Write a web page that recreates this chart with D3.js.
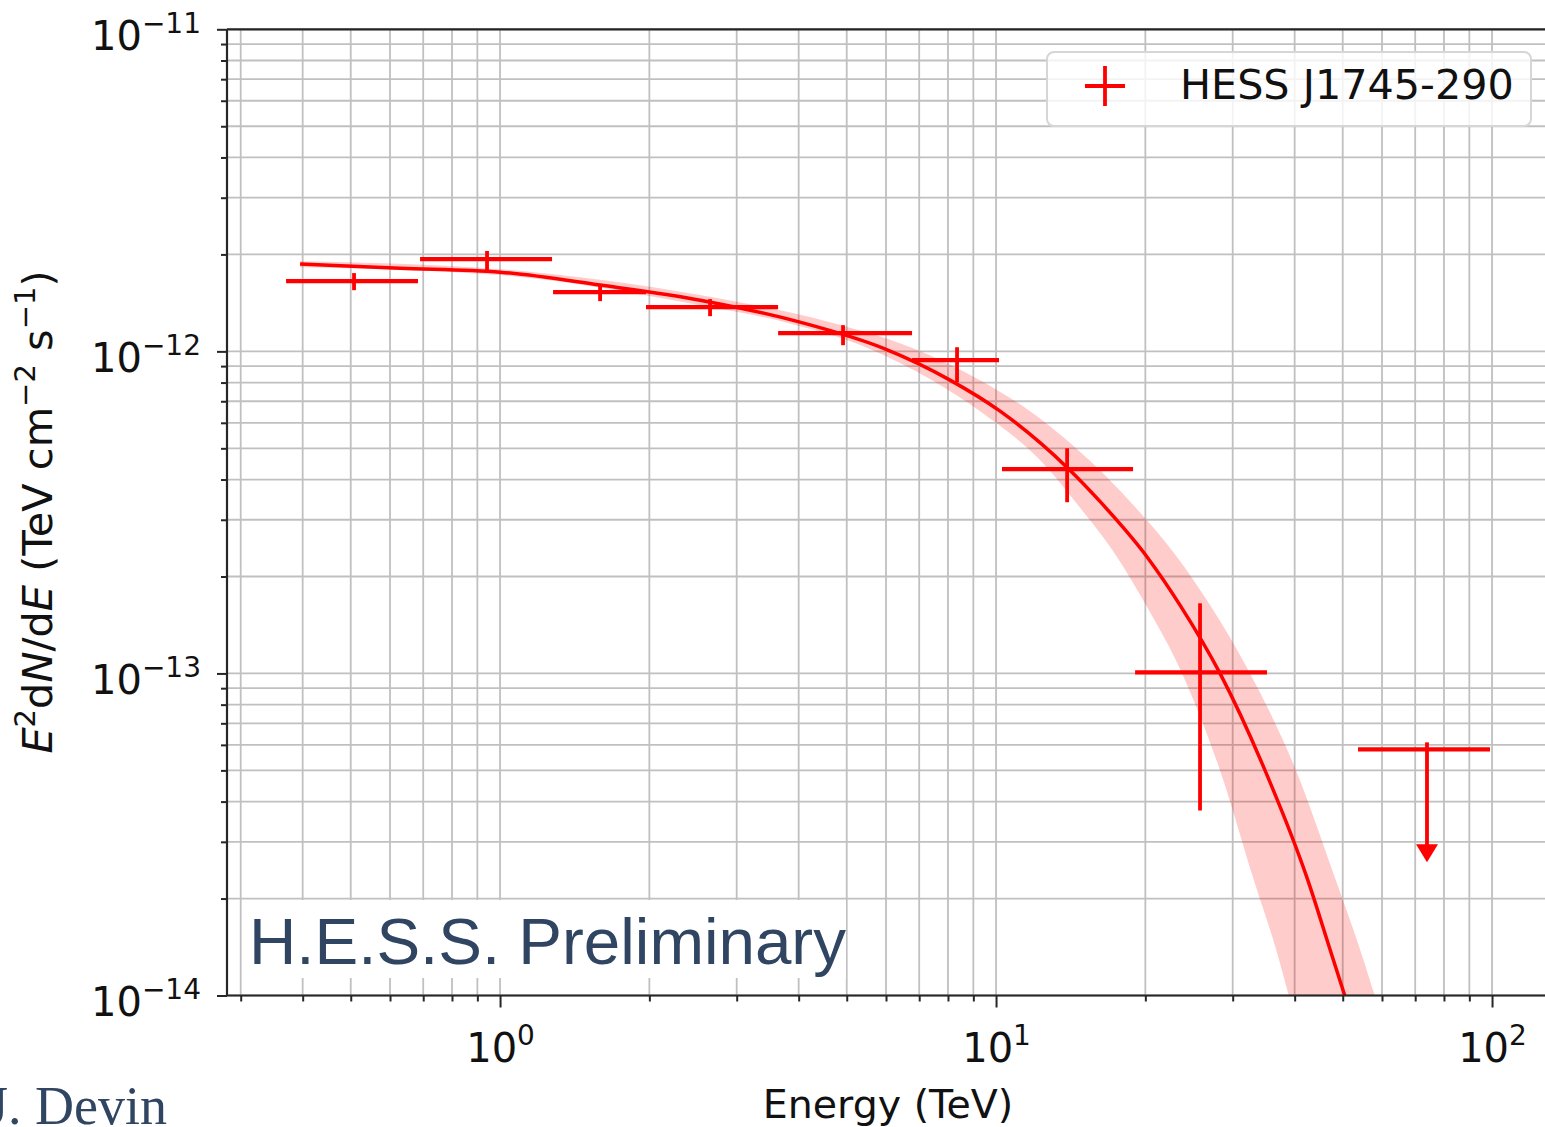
<!DOCTYPE html>
<html>
<head>
<meta charset="utf-8">
<script src="https://cdn.jsdelivr.net/npm/d3@7"></script>
<style>
    body { margin: 0; background: #fff; }
    svg { display: block; }
    text { white-space: pre; }
</style>
</head>
<body>
<div id="chart"></div>
<script>
// flux points (TeV, TeV cm^-2 s^-1)
const energy   = [0.5077, 0.9414, 1.591, 2.651, 4.915, 8.344, 13.91, 25.78];
const energyLo = [0.3703, 0.6898, 1.279, 1.969, 3.636, 6.771, 10.28, 19.07];
const energyHi = [0.6833, 1.273, 1.969, 3.636, 6.771, 10.14, 18.89, 35.18];
const flux     = [1.652e-12, 1.934e-12, 1.527e-12, 1.372e-12, 1.139e-12, 9.39e-13, 4.306e-13, 1.008e-13];
const fluxLo   = [1.549e-12, 1.787e-12, 1.432e-12, 1.286e-12, 1.045e-12, 8.02e-13, 3.401e-13, 3.756e-14];
const fluxHi   = [1.750e-12, 2.048e-12, 1.617e-12, 1.453e-12, 1.206e-12, 1.030e-12, 5.004e-13, 1.651e-13];

// upper limit in the last bin
const ulEnergy = [73.94];
const ulEnergyLo = [53.68];
const ulEnergyHi = [99.07];
const ulFlux = [5.811e-14];

// best fit model and its error band
const fitEnergy = [0.3952, 0.6286, 1.0, 1.591, 2.531, 4.025, 5.918, 8.077, 10.19, 13.91, 16.20, 20.16, 23.49, 28.29, 34.86, 42.57, 47.14, 50.54];
const fitFlux   = [1.866e-12, 1.813e-12, 1.762e-12, 1.606e-12, 1.442e-12, 1.232e-12, 1.023e-12, 8.14e-13, 6.52e-13, 4.36e-13,
                   3.42e-13, 2.30e-13, 1.63e-13, 1.00e-13, 5.00e-14, 2.27e-14, 1.39e-14, 9.93e-15];

const bandUpEnergy = [0.3952, 1.0, 2.531, 4.628, 6.803, 9.284, 11.71, 15.98, 18.63, 23.17, 27.01, 32.52, 40.25, 48.47, 54.19, 58.08];
const bandUpFlux   = [1.906e-12, 1.800e-12, 1.495e-12, 1.232e-12, 1.023e-12, 8.14e-13, 6.52e-13, 4.36e-13, 3.42e-13, 2.30e-13,
                      1.63e-13, 1.00e-13, 5.00e-14, 2.27e-14, 1.39e-14, 9.93e-15];
const bandLoEnergy = [0.3952, 1.0, 2.531, 3.755, 5.521, 7.430, 9.284, 12.67, 14.43, 17.53, 20.06, 23.71, 28.29, 33.13, 36.69, 38.97];
const bandLoFlux   = [1.826e-12, 1.725e-12, 1.391e-12, 1.232e-12, 1.023e-12, 8.14e-13, 6.52e-13, 4.36e-13, 3.42e-13, 2.30e-13,
                      1.63e-13, 1.00e-13, 5.00e-14, 2.27e-14, 1.39e-14, 9.93e-15];

// axes
const xMajorTicks = [1, 10, 100];
const xMajorLabels = ["0", "1", "2"];
const yMajorTicks = [1e-14, 1e-13, 1e-12, 1e-11];
const yMajorLabels = ["\u221214", "\u221213", "\u221212", "\u221211"];

const legendLabel = "HESS J1745-290";
const watermark = "H.E.S.S. Preliminary";
const author = "J. Devin";

const W = 1545, H = 1127;
const plot = { left: 227, right: 1560, top: 29.3, bottom: 995.5 };
const red = "#ff0000";
const gridColor = "#c0c0c0";
const spineColor = "#262626";
const slate = "#2f4562";
const sans = "'DejaVu Sans', sans-serif";

const svg = d3.select("#chart").append("svg")
    .attr("width", W)
    .attr("height", H)
    .style("overflow", "hidden")
    .style("font-family", sans);
svg.append("rect").attr("width", W).attr("height", H).attr("fill", "#fff");

const x = d3.scaleLog().domain([0.2815, 137.1]).range([plot.left, plot.right]);
const y = d3.scaleLog().domain([1e-14, 1e-11]).range([plot.bottom, plot.top]);

const isMajor = v => Math.abs(Math.log10(v) - Math.round(Math.log10(v))) < 1e-6;
const xMinor = x.ticks().filter(v => !isMajor(v));
const yMinor = y.ticks().filter(v => !isMajor(v));

svg.append("clipPath").attr("id", "plotClip")
    .append("rect")
    .attr("x", plot.left).attr("y", plot.top)
    .attr("width", plot.right - plot.left).attr("height", plot.bottom - plot.top);

// grid, major and minor
const grid = svg.append("g").attr("stroke", gridColor).attr("stroke-width", 1.8);
grid.selectAll(".gx").data(x.ticks()).join("line")
    .attr("x1", d => x(d)).attr("x2", d => x(d))
    .attr("y1", plot.top).attr("y2", plot.bottom);
grid.selectAll(".gy").data(y.ticks()).join("line")
    .attr("x1", plot.left).attr("x2", plot.right)
    .attr("y1", d => y(d)).attr("y2", d => y(d));

const g = svg.append("g").attr("clip-path", "url(#plotClip)");

// error band of the fit
const lineGen = d3.line().x(d => x(d[0])).y(d => y(d[1])).curve(d3.curveMonotoneX);
const bandUp = bandUpEnergy.map((e, i) => [e, bandUpFlux[i]]);
const bandLo = bandLoEnergy.map((e, i) => [e, bandLoFlux[i]]);
const bandLoPath = d3.line().x(d => x(d[0])).y(d => y(d[1])).curve(d3.curveMonotoneX)(bandLo.slice().reverse());
g.append("path")
    .attr("d", lineGen(bandUp) + bandLoPath.replace(/^M/, "L") + "Z")
    .attr("fill", red)
    .attr("fill-opacity", 0.2)
    .attr("stroke", "none");

// fit line
g.append("path")
    .datum(fitEnergy.map((e, i) => [e, fitFlux[i]]))
    .attr("d", lineGen)
    .attr("fill", "none")
    .attr("stroke", red)
    .attr("stroke-width", 3.5);

// flux points with error bars
const pts = energy.map((e, i) => ({ e, lo: energyLo[i], hi: energyHi[i], f: flux[i], fLo: fluxLo[i], fHi: fluxHi[i] }));
const pg = g.append("g").attr("stroke", red).attr("stroke-width", 4.2);
pg.selectAll(".xerr").data(pts).join("line")
    .attr("x1", d => x(d.lo)).attr("x2", d => x(d.hi))
    .attr("y1", d => y(d.f)).attr("y2", d => y(d.f));
pg.selectAll(".yerr").data(pts).join("line")
    .attr("stroke-width", 3.8)
    .attr("x1", d => x(d.e)).attr("x2", d => x(d.e))
    .attr("y1", d => y(d.fLo)).attr("y2", d => y(d.fHi));

// upper limit with arrow
const uls = ulEnergy.map((e, i) => ({ e, lo: ulEnergyLo[i], hi: ulEnergyHi[i], f: ulFlux[i] }));
pg.selectAll(".ulx").data(uls).join("line")
    .attr("x1", d => x(d.lo)).attr("x2", d => x(d.hi))
    .attr("y1", d => y(d.f)).attr("y2", d => y(d.f));
pg.selectAll(".uly").data(uls).join("line")
    .attr("stroke-width", 3.8)
    .attr("x1", d => x(d.e)).attr("x2", d => x(d.e))
    .attr("y1", d => y(d.f) - 7).attr("y2", d => y(d.f) + 98);
g.selectAll(".ulhead").data(uls).join("path")
    .attr("d", d => `M${x(d.e) - 11},${y(d.f) + 95} L${x(d.e) + 11},${y(d.f) + 95} L${x(d.e)},${y(d.f) + 113} Z`)
    .attr("fill", red);

// watermark box
svg.append("rect")
    .attr("x", 246).attr("y", 900)
    .attr("width", 600).attr("height", 78)
    .attr("fill", "#fff");
svg.append("text")
    .attr("x", 249).attr("y", 964)
    .style("font-family", "'Liberation Sans', Arial, sans-serif")
    .attr("font-size", 65.5)
    .attr("fill", slate)
    .text(watermark);

// ticks
function styleAxis(sel) {
    sel.select(".domain").remove();
    sel.attr("font-family", null);
    sel.selectAll(".tick line").attr("stroke", spineColor).attr("stroke-width", 2);
}
svg.append("g").attr("transform", `translate(0,${plot.bottom})`)
    .call(d3.axisBottom(x).tickValues(xMinor).tickSize(6).tickFormat(""))
    .call(styleAxis);
const xAxisMajor = svg.append("g").attr("transform", `translate(0,${plot.bottom})`)
    .call(d3.axisBottom(x).tickValues(xMajorTicks).tickSize(12).tickFormat(""))
    .call(styleAxis);
svg.append("g").attr("transform", `translate(${plot.left},0)`)
    .call(d3.axisLeft(y).tickValues(yMinor).tickSize(6).tickFormat(""))
    .call(styleAxis);
const yAxisMajor = svg.append("g").attr("transform", `translate(${plot.left},0)`)
    .call(d3.axisLeft(y).tickValues(yMajorTicks).tickSize(10).tickFormat(""))
    .call(styleAxis);

function powerLabel(textSel, exp) {
    textSel.style("font-family", sans);
    textSel.append("tspan").text("10");
    textSel.append("tspan").attr("dy", -17).attr("font-size", 28).text(exp);
}
xAxisMajor.selectAll(".tick").each(function(d, i) {
    const t = d3.select(this).append("text")
        .attr("x", 0).attr("y", 66)
        .attr("text-anchor", "middle")
        .attr("font-size", 40)
        .attr("fill", "#111");
    powerLabel(t, xMajorLabels[i]);
});
yAxisMajor.selectAll(".tick").each(function(d, i) {
    const t = d3.select(this).append("text")
        .attr("x", -26).attr("y", 20)
        .attr("text-anchor", "end")
        .attr("font-size", 40)
        .attr("fill", "#111");
    powerLabel(t, yMajorLabels[i]);
});

// spines
const spines = svg.append("g").attr("stroke", spineColor).attr("stroke-width", 2.2);
spines.append("line").attr("x1", plot.left).attr("x2", plot.left).attr("y1", plot.top).attr("y2", plot.bottom);
spines.append("line").attr("x1", plot.left).attr("x2", W).attr("y1", plot.bottom).attr("y2", plot.bottom);
spines.append("line").attr("x1", plot.left).attr("x2", W).attr("y1", plot.top).attr("y2", plot.top);

// axis titles
svg.append("text")
    .attr("x", 888).attr("y", 1118)
    .attr("text-anchor", "middle")
    .attr("font-size", 39.5)
    .attr("fill", "#111")
    .text("Energy (TeV)");

const yTitle = svg.append("text")
    .attr("transform", "translate(52,512) rotate(-90)")
    .attr("text-anchor", "middle")
    .attr("font-size", 41.5)
    .attr("fill", "#111");
[
    ["E", 0, null, true], ["2", -17, 29], ["d", 17], ["N", 0, null, true], ["/d", 0], ["E", 0, null, true],
    [" (TeV cm", 0], ["\u22122", -17, 29], [" s", 17], ["\u22121", -17, 29], [")", 17]
].forEach(([txt, dy, size, italic]) => {
    const ts = yTitle.append("tspan").attr("dy", dy).text(txt);
    if (size) ts.attr("font-size", size);
    if (italic) ts.attr("font-style", "italic");
});

// legend
const legend = svg.append("g");
legend.append("rect")
    .attr("x", 1047).attr("y", 52)
    .attr("width", 484).attr("height", 74)
    .attr("rx", 7)
    .attr("fill", "#fff").attr("fill-opacity", 0.8)
    .attr("stroke", "#d6d6d6").attr("stroke-width", 2);
legend.append("line").attr("x1", 1085).attr("x2", 1125).attr("y1", 86).attr("y2", 86)
    .attr("stroke", red).attr("stroke-width", 4.2);
legend.append("line").attr("x1", 1105).attr("x2", 1105).attr("y1", 66).attr("y2", 106)
    .attr("stroke", red).attr("stroke-width", 3.8);
legend.append("text")
    .attr("x", 1180).attr("y", 99)
    .attr("font-size", 41.3)
    .attr("fill", "#111")
    .text(legendLabel);

// author credit, cut at the left edge as in the original slide
svg.append("text")
    .attr("x", -13).attr("y", 1124)
    .style("font-family", "'Liberation Serif', serif")
    .attr("font-size", 54)
    .attr("fill", slate)
    .text(author);
</script>
</body>
</html>
